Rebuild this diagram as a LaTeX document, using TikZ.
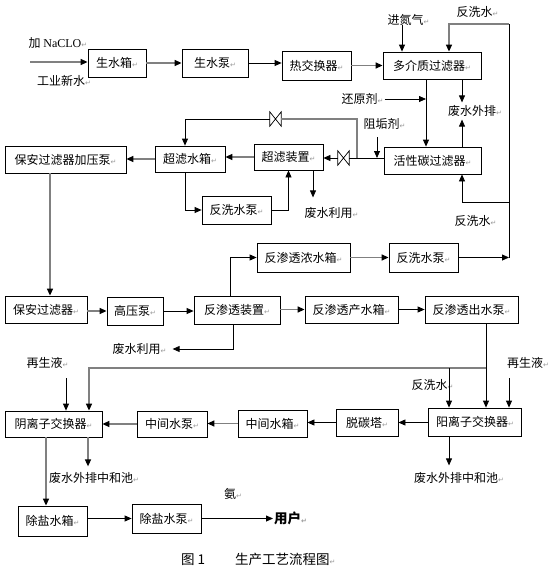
\documentclass[tikz,border=0pt]{standalone}
\usepackage{fontspec}
\setmainfont{Liberation Serif}
\newfontfamily\cjk{Noto Sans CJK SC}
\newfontfamily\latinserif{Liberation Serif}
\newfontfamily\symfont{DejaVu Sans}
\usetikzlibrary{arrows.meta, positioning}
\newcommand\enterarrow{{\symfont\fontsize{7}{7}\selectfont\color{gray!80}↵}}
\tikzset{
x=1pt, y=-1pt, % one unit is one pixel of the sheet, y runs downwards
>={Triangle[length=7pt,width=6pt,color=black]},
box/.style={draw, line width=0.8pt, inner sep=0pt, font=\cjk\fontsize{12}{14}\selectfont}, % every unit of the plant
lbl/.style={inner sep=1pt, font=\cjk\fontsize{12}{14}\selectfont}, % free texts
flow/.style={->, line width=0.8pt},
gflow/.style={->, line width=1.4pt, draw=gray},
valve/.style={minimum width=11pt, minimum height=14pt, inner sep=0pt},
}

\begin{document}
\begin{tikzpicture}
        \useasboundingbox (0,0) rectangle (556,573);
        %% units, row by row
        \node[box, minimum width=58pt, minimum height=28pt] (sxx) at (117,63) {生水箱\enterarrow};
        \node[box, minimum width=66pt, minimum height=28pt] (sxb) at (215,63) {生水泵\enterarrow};
        \node[box, minimum width=69pt, minimum height=29pt] (rjh) at (316.5,65.5) {热交换器\enterarrow};
        \node[box, minimum width=98pt, minimum height=27pt] (djz) at (432,65.5) {多介质过滤器\enterarrow};
        \node[box, minimum width=97pt, minimum height=27pt] (hxt) at (432.5,160.5) {活性碳过滤器\enterarrow};
        \node[box, minimum width=69pt, minimum height=26pt] (clzz) at (288.5,157) {超滤装置\enterarrow};
        \node[box, minimum width=70pt, minimum height=26pt] (clsx) at (190,159) {超滤水箱\enterarrow};
        \node[box, minimum width=69pt, minimum height=28pt] (fxbA) at (236.5,210) {反洗水泵\enterarrow};
        \node[box, minimum width=121pt, minimum height=27pt] (bajy) at (65.5,159.5) {保安过滤器加压泵\enterarrow};
        \node[box, minimum width=82pt, minimum height=27pt] (bagl) at (46,309.5) {保安过滤器\enterarrow};
        \node[box, minimum width=56pt, minimum height=28pt] (gyb) at (135,311) {高压泵\enterarrow};
        \node[box, minimum width=86pt, minimum height=28pt] (fst) at (237,310) {反渗透装置\enterarrow};
        \node[box, minimum width=93pt, minimum height=29pt] (nsx) at (303.5,257.5) {反渗透浓水箱\enterarrow};
        \node[box, minimum width=69pt, minimum height=29pt] (fxbB) at (423.5,257.5) {反洗水泵\enterarrow};
        \node[box, minimum width=93pt, minimum height=27pt] (csx) at (351.5,309.5) {反渗透产水箱\enterarrow};
        \node[box, minimum width=93pt, minimum height=27pt] (csb) at (471.5,309.5) {反渗透出水泵\enterarrow};
        \node[box, minimum width=93pt, minimum height=28pt] (yang) at (475,422) {阳离子交换器\enterarrow};
        \node[box, minimum width=62pt, minimum height=27pt] (ttt) at (367,422.5) {脱碳塔\enterarrow};
        \node[box, minimum width=69pt, minimum height=27pt] (zjx) at (272.5,423.5) {中间水箱\enterarrow};
        \node[box, minimum width=70pt, minimum height=26pt] (zjb) at (172,424) {中间水泵\enterarrow};
        \node[box, minimum width=97pt, minimum height=26pt] (yin) at (53.5,424) {阴离子交换器\enterarrow};
        \node[box, minimum width=69pt, minimum height=30pt] (cyx) at (52.5,521) {除盐水箱\enterarrow};
        \node[box, minimum width=69pt, minimum height=29pt] (cyb) at (166.5,518.5) {除盐水泵\enterarrow};
        %% free texts
        \node[lbl] (nacl) at (58,43) {加 {\latinserif NaCLO}\enterarrow};
        \node[lbl] (gyxs) at (64,81) {工业新水\enterarrow};
        \node[lbl] (jdq) at (408.5,20) {进氮气\enterarrow};
        \node[lbl] (fxsA) at (477.5,12) {反洗水\enterarrow};
        \node[lbl] (hyj) at (362.5,99) {还原剂\enterarrow};
        \node[lbl] (fwwp) at (475,111) {废水外排\enterarrow};
        \node[lbl] (zgj) at (384.5,124) {阻垢剂\enterarrow};
        \node[lbl] (fwlyA) at (331.5,213) {废水利用\enterarrow};
        \node[lbl] (fxsB) at (475.5,221) {反洗水\enterarrow};
        \node[lbl] (fwlyB) at (139.5,349) {废水利用\enterarrow};
        \node[lbl] (zsyL) at (47.5,363) {再生液\enterarrow};
        \node[lbl] (zsyR) at (528,363) {再生液\enterarrow};
        \node[lbl] (fxsC) at (432.5,385) {反洗水\enterarrow};
        \node[lbl] (zhcL) at (94,478) {废水外排中和池\enterarrow};
        \node[lbl] (zhcR) at (459,478) {废水外排中和池\enterarrow};
        \node[lbl] (an) at (233,494) {氨\enterarrow};
        \node[lbl, anchor=west, font=\cjk\bfseries\fontsize{13.5}{15}\selectfont] (yh) at (273,518.5) {用户\enterarrow};
        \node[lbl, anchor=west, font=\cjk\fontsize{13.5}{15}\selectfont] (cap) at (180,559) {图 1\hspace{30pt}生产工艺流程图\enterarrow};
        %% valves
        \node[valve] (vA) at (275.5,119) {};
        \node[valve] (vB) at (343.5,158) {};
        \draw[line width=0.7pt] (vA.south west) -- (vA.north east) -- (vA.south east) -- (vA.north west) -- cycle;
        \draw[line width=0.7pt] (vB.south west) -- (vB.north east) -- (vB.south east) -- (vB.north west) -- cycle;
        %% free ends
        \coordinate (feed) at (30,62);
        \coordinate (nin) at (402,25);
        \coordinate (bwtop) at (509,24);
        \coordinate (bwmid) at (509,202);
        \coordinate (jn) at (357,158);
        \coordinate (zg) at (377,137);
        \coordinate (ionT) at (486,368);
        \coordinate (zsR) at (509,378);
        \coordinate (zsL) at (66,378);
        \coordinate (dvert) at ([xshift=-6]djz.south);
        %% water pre-treatment
        \draw[gflow] (feed) -- (feed -| sxx.west);
        \draw[gflow] (sxx.east) -- (sxb.west);
        \draw[flow] (sxb.east) -- (sxb.east -| rjh.west);
        \draw[gflow] (rjh.east) -- (rjh.east -| djz.west);
        \draw[flow] (nin) -- (nin |- djz.north);
        \draw[flow] (fxbB.east) -- (fxbB.east -| bwtop);
        \draw[line width=0.8pt] (bwtop |- fxbB.east) -- (bwtop);
        \draw[gflow] (bwtop) -| ([xshift=17]djz.north);
        \draw[flow] (bwmid) -| ([xshift=29.5]hxt.south);
        \draw[flow] ([xshift=30]djz.south) -- ++(0,23);
        \draw[flow] ([xshift=29.5]hxt.north) -- ++(0,-27);
        \draw[flow] (dvert) -- (dvert |- hxt.north);
        \draw[flow] (hyj.east) -- (hyj.east -| dvert);
        \draw[flow] (zg) -- (zg |- jn);
        %% ultra filtration
        \draw[line width=0.8pt] (hxt.west |- jn) -- (vB.east);
        \draw[flow] (vB.west) -- (vB.west -| clzz.east);
        \draw[gflow, -] (jn) -- (jn |- vA) -- (vA.east);
        \draw[flow] (vA.west) -| ([xshift=-5]clsx.north);
        \draw[gflow] (clzz.west) -- (clzz.west -| clsx.east);
        \draw[flow] ([xshift=24.5]clzz.south) -- ++(0,27);
        \draw[flow] ([xshift=-5]clsx.south) |- (fxbA.west);
        \draw[flow] (fxbA.east) -| (clzz.south);
        \draw[gflow] (clsx.west) -- (clsx.west -| bajy.east);
        %% reverse osmosis
        \draw[gflow] ([xshift=-15.5]bajy.south) -- ([xshift=-15.5]bajy.south |- bagl.north);
        \draw[gflow] (bagl.east |- gyb) -- (gyb.west);
        \draw[flow] (gyb.east) -- (gyb.east -| fst.west);
        \draw[flow] ([xshift=-7]fst.north) |- (nsx.west);
        \draw[gflow] (nsx.east) -- (fxbB.west);
        \draw[flow] ([xshift=-4]fst.south) |- ([xshift=5]fwlyB.east);
        \draw[gflow] (fst.east |- csx) -- (csx.west);
        \draw[flow] (csx.east) -- (csb.west);
        %% ion exchange
        \draw[line width=0.8pt] (ionT |- csb.south) -- (ionT);
        \draw[flow] (ionT) -- (ionT |- yang.north);
        \draw[gflow] (ionT) -| ([xshift=35.5]yin.north);
        \draw[flow] ([xshift=-26]yang.north |- ionT) -- ([xshift=-26]yang.north);
        \draw[flow] (zsR) -- (zsR |- yang.north);
        \draw[flow] (zsL) -- (zsL |- yin.north);
        \draw[flow] (yang.west |- ttt) -- (ttt.east);
        \draw[flow] (ttt.west) -- (ttt.west -| zjx.east);
        \draw[gflow] (zjx.west) -- (zjx.west -| zjb.east);
        \draw[gflow] (zjb.west) -- (yin.east);
        \draw[gflow] ([xshift=34.5]yin.south) -- ++(0,29);
        \draw[flow] ([xshift=-26]yang.south) -- ++(0,29);
        \draw[gflow] ([xshift=-7.5]yin.south) -- ([xshift=-7.5]yin.south |- cyx.north);
        \draw[flow] (cyx.east |- cyb.west) -- (cyb.west);
        \draw[flow] (cyb.east) -- (yh.west);
    \end{tikzpicture}
\end{document}
